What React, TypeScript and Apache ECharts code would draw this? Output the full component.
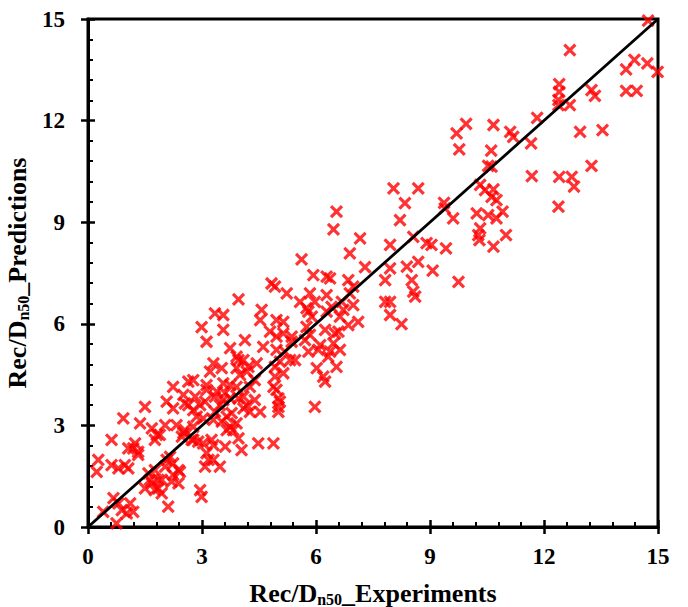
import React, { useEffect, useRef } from "react";
import * as echarts from "echarts";

const experiments: number[] = [
  14.74, 12.68, 14.38, 14.16, 14.72, 14.99, 14.16, 14.44, 12.40, 12.40, 12.38, 12.38, 12.68, 13.25, 13.34, 12.95, 13.54, 13.25, 12.40, 12.73, 12.79, 12.38, 11.82,
  9.95, 9.70, 10.67, 11.11, 11.19, 9.77, 10.61, 11.66, 10.53, 10.62, 11.68, 10.32, 10.45, 10.67, 10.62, 10.75, 9.37, 9.39, 9.61, 10.23, 10.53, 10.75, 10.91,
  10.32, 10.27, 10.30, 11.00, 10.67, 9.04, 9.42, 9.07, 9.75,
  8.04, 8.69, 8.34, 8.21, 7.16, 8.56, 7.95, 8.91, 6.54, 6.46, 6.89, 8.69, 5.62, 7.29, 7.95, 8.39, 5.93, 6.28, 6.37, 6.85, 7.82, 8.52, 6.98, 6.28, 6.89,
  8.56, 8.61, 5.84, 7.82, 7.95, 6.68, 6.98, 6.41, 5.75, 5.89, 7.95, 8.25, 7.11, 6.63, 6.85, 5.75, 6.50, 5.71, 6.11, 6.46, 6.63, 5.80, 6.32,
  4.83, 4.92, 5.23, 3.96, 5.58, 5.97, 4.57, 3.34, 3.56, 5.80, 6.28, 6.72, 4.53, 4.96, 5.14, 2.99, 3.56, 4.79, 5.14, 6.24, 6.59, 5.84, 3.12, 4.13, 5.36,
  4.61, 3.74, 4.96, 6.06, 6.37, 3.96, 4.09, 3.30, 4.44, 5.05, 5.45, 6.02, 6.54, 6.19, 6.24, 3.52, 3.91, 4.00, 4.18, 4.39, 4.92, 5.14, 4.88, 3.12, 3.39,
  3.74, 2.82, 3.08, 3.56, 3.96, 4.18, 5.01, 5.01, 5.97, 2.77, 3.34, 3.78, 4.26, 3.03, 3.52, 3.91, 2.77, 3.82, 4.48, 4.88, 2.90, 3.30,
  3.21, 2.64, 2.24, 1.50, 2.07, 2.55, 2.95, 3.34, 3.61, 0.93, 1.68, 1.81, 2.03, 2.33, 2.55, 2.47, 2.73, 3.25, 0.62, 1.24, 1.06, 1.32, 0.27, 0.62, 0.80,
  0.23, 0.97, 1.06, 1.59, 1.76, 1.85, 1.68, 2.07, 2.03, 2.38, 2.24, 2.38, 1.50, 1.76, 1.94, 2.11, 2.95, 2.99, 3.17, 3.08, 3.61, 4.04, 3.65, 3.96,
  0.67, 0.80, 0.89, 0.40, 1.02, 1.19, 0.75, 1.11,
  3.91, 4.22, 4.96, 5.36, 5.18, 5.32, 4.92, 4.96, 5.05, 5.01, 2.77, 3.12, 3.56, 3.91, 4.26, 4.09, 4.39, 3.74, 4.09, 4.53, 2.86, 3.30, 3.65,
  2.24, 2.51, 2.64, 3.47, 3.74, 1.37, 1.89, 1.76, 2.51, 2.77, 3.03, 1.19, 1.32, 2.16, 3.12, 3.30, 3.47, 2.24, 2.42, 1.63, 1.94, 2.20, 1.85,
];

const predictions: number[] = [
  14.95, 14.08, 13.79, 13.51, 13.69, 13.44, 12.88, 12.88, 13.08, 12.85, 12.61, 12.46, 12.46, 12.90, 12.73, 11.67, 11.72, 10.66, 10.34, 10.34, 10.05, 9.46, 12.08,
  11.90, 11.62, 11.87, 11.67, 11.52, 11.15, 11.11, 11.33, 10.66, 10.64, 10.36, 10.10, 9.95, 9.97, 9.75, 9.65, 9.57, 9.41, 9.11, 9.26, 9.21, 9.11, 9.31,
  8.82, 8.62, 8.47, 8.62, 8.28, 8.33, 8.23, 7.57, 7.24,
  10.00, 10.00, 9.56, 9.06, 8.52, 8.57, 8.33, 8.38, 9.31, 8.79, 8.08, 7.83, 7.90, 7.67, 7.64, 7.69, 7.44, 7.39, 7.34, 7.29, 7.29, 7.29, 7.10, 6.85, 6.90,
  6.95, 6.80, 6.90, 6.65, 6.65, 6.65, 6.55, 6.50, 6.46, 6.21, 6.26, 5.99, 6.06, 6.21, 5.96, 5.91, 5.72, 5.52, 5.37, 5.42, 5.23, 5.18, 5.03,
  7.19, 7.10, 6.90, 6.72, 6.65, 6.65, 6.41, 6.31, 6.26, 6.36, 6.36, 6.41, 6.11, 6.11, 6.06, 5.90, 5.82, 5.77, 5.72, 5.82, 5.77, 5.67, 5.47, 5.52, 5.47,
  5.32, 5.28, 5.23, 5.23, 5.18, 4.93, 4.93, 4.83, 4.83, 4.88, 4.93, 4.69, 4.73, 4.44, 4.29, 4.69, 4.69, 4.49, 4.59, 4.34, 4.44, 4.54, 4.14, 4.05, 4.00,
  4.19, 3.85, 3.70, 3.75, 3.80, 3.60, 3.80, 3.55, 3.55, 3.45, 3.40, 3.36, 3.40, 3.21, 3.11, 3.06, 2.96, 2.86, 2.47, 2.47, 2.52, 2.42,
  4.59, 4.29, 4.14, 3.55, 3.70, 3.65, 3.60, 3.85, 3.95, 3.21, 2.91, 2.72, 3.01, 3.01, 2.86, 2.67, 2.57, 2.57, 2.57, 2.47, 2.32, 2.22, 1.98, 1.83, 1.73,
  1.63, 1.83, 1.73, 1.58, 1.68, 1.39, 1.29, 1.98, 1.78, 1.68, 1.54, 1.29, 1.14, 1.09, 0.99, 0.60, 1.09, 0.89, 1.98, 1.78, 2.37, 2.27, 2.86, 2.62,
  0.85, 0.70, 0.50, 0.45, 0.40, 0.45, 0.11, 0.70,
  5.03, 4.73, 5.62, 5.62, 5.18, 4.93, 4.73, 4.05, 3.70, 3.40, 4.34, 4.19, 4.24, 4.14, 4.14, 3.85, 3.75, 3.80, 3.50, 3.40, 3.26, 3.16, 3.26,
  3.50, 3.90, 3.60, 3.60, 2.96, 3.06, 2.72, 2.57, 2.77, 2.57, 2.47, 2.32, 2.13, 2.07, 2.18, 1.98, 1.78, 1.88, 1.63, 1.39, 1.39, 1.34, 1.14,
];

const axisMin = 0;
const axisMax = 15;
const axisInterval = 3;
const lineX = [0, 15];
const lineY = [0, 15];

const FONT = "Liberation Serif";

export default function App() {
  const ref = useRef<HTMLDivElement>(null);

  useEffect(() => {
    document.body.style.margin = "0";
    const chart = echarts.init(ref.current!, null, { renderer: "svg" });

    const points = experiments.map((x, i) => [x, predictions[i]]);
    const lineData = lineX.map((x, i) => [x, lineY[i]]);

    const labelStyle = {
      fontFamily: FONT,
      fontWeight: "bold" as const,
      fontSize: 23,
      color: "#000",
    };
    const rich = {
      m: { fontFamily: FONT, fontWeight: "bold" as const, fontSize: 26, color: "#000", lineHeight: 28 },
      s: { fontFamily: FONT, fontWeight: "bold" as const, fontSize: 16, color: "#000", lineHeight: 8, verticalAlign: "bottom" as const },
    };

    const baseAxis = {
      type: "value" as const,
      min: axisMin,
      max: axisMax,
      interval: axisInterval,
      splitLine: { show: false },
    };

    chart.setOption({
      animation: false,
      backgroundColor: "#fff",
      grid: {
        left: 88,
        right: 30,
        top: 19,
        bottom: 80,
        show: true,
        borderColor: "#000",
        borderWidth: 3,
        backgroundColor: "transparent",
        containLabel: false,
        outerBoundsMode: "none",
      },
      xAxis: [
        {
          ...baseAxis,
          position: "bottom",
          axisLine: { show: true, onZero: false, lineStyle: { color: "#000", width: 3 } },
          axisTick: { show: true, inside: false, length: 7, lineStyle: { color: "#000", width: 2.5 } },
          axisLabel: { ...labelStyle, margin: 18 },
          name: "{m|Rec/D}{s|n50}{m|_Experiments}",
          nameLocation: "middle",
          nameGap: 52,
          nameTextStyle: { rich },
        },
        {
          ...baseAxis,
          position: "bottom",
          axisLine: { show: false },
          axisTick: { show: true, inside: true, length: 7, lineStyle: { color: "#000", width: 2.5 } },
          minorTick: { show: true, splitNumber: 5, length: 5, lineStyle: { color: "#000", width: 2 } },
          axisLabel: { show: false },
        },
      ],
      yAxis: [
        {
          ...baseAxis,
          position: "left",
          axisLine: { show: true, onZero: false, lineStyle: { color: "#000", width: 3 } },
          axisTick: { show: true, inside: false, length: 7, lineStyle: { color: "#000", width: 2.5 } },
          axisLabel: { ...labelStyle, margin: 23 },
          name: "{m|Rec/D}{s|n50}{m|_Predictions}",
          nameLocation: "middle",
          nameGap: 42,
          nameRotate: 90,
          nameTextStyle: { rich },
        },
        {
          ...baseAxis,
          position: "left",
          axisLine: { show: false },
          axisTick: { show: true, inside: true, length: 7, lineStyle: { color: "#000", width: 2.5 } },
          minorTick: { show: true, splitNumber: 5, length: 5, lineStyle: { color: "#000", width: 2 } },
          axisLabel: { show: false },
        },
      ],
      series: [
        {
          type: "scatter",
          xAxisIndex: 0,
          yAxisIndex: 0,
          data: points,
          symbol: "path://M0,0L10,10M10,0L0,10",
          symbolSize: 11,
          itemStyle: { color: "none", borderColor: "#ff0000", borderWidth: 3.2 },
          z: 2,
        },
        {
          type: "line",
          xAxisIndex: 0,
          yAxisIndex: 0,
          data: lineData,
          symbol: "none",
          lineStyle: { color: "#000", width: 2.8 },
          z: 3,
        },
      ],
    });

    return () => chart.dispose();
  }, []);

  return (
    <div
      ref={ref}
      style={{ position: "absolute", left: 0, top: 0, width: 688, height: 607, background: "#fff" }}
    />
  );
}
